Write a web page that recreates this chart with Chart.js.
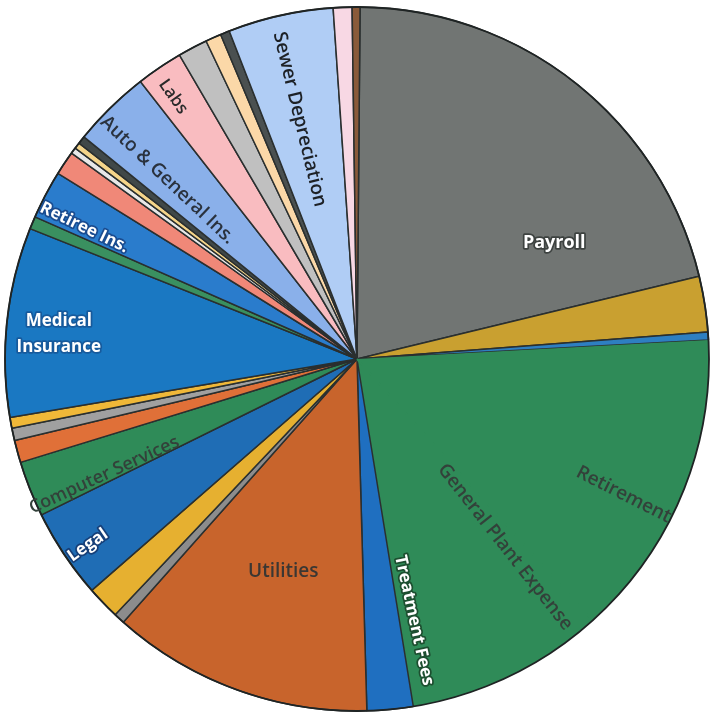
<!DOCTYPE html>
<html>
<head>
<meta charset="utf-8">
<script src="https://cdn.jsdelivr.net/npm/chart.js@4"></script>
<style>
  html, body { margin: 0; padding: 0; background: #ffffff; }
  #wrap { width: 712px; height: 719px; position: relative; }
</style>
</head>
<body>
<div id="wrap"><canvas id="grafico-gastos"></canvas></div>
<script>
// Categorias y porcentajes (en el sentido de las agujas del reloj desde arriba)
const categories = ['Payroll', '', '', 'Retirement', 'General Plant Expense', 'Treatment Fees', 'Utilities',
    '', '', 'Legal', 'Computer Services', '', '', '', 'Medical Insurance', '', 'Retiree Ins.', '',
    '', '', '', 'Auto & General Ins.', 'Labs', '', '', '', 'Sewer Depreciation', '', ''];
const shares = [21.08, 2.56, 0.36, 14.19, 9.11, 2.11, 12.00,
    0.50, 1.53, 4.11, 2.56, 1.03, 0.56, 0.50, 8.69, 0.58, 2.22, 1.11,
    0.28, 0.28, 0.36, 3.58, 2.14, 1.36, 0.72, 0.42, 4.83, 0.86, 0.36];
const sliceColors = ['#717573', '#c9a030', '#2e7fc1', '#2f8b58', '#2f8b58', '#1f6fc0', '#c8642c',
    '#8c8c8c', '#e6b030', '#1f6db5', '#2f8b58', '#e07038', '#a0a0a0', '#f0b838', '#1a78c2', '#3a9060', '#2a7ccc', '#f08878',
    '#e8e8e8', '#f5d58a', '#404848', '#8ab0ea', '#f9bcc0', '#c0c0c0', '#fbd8a8', '#4a5050', '#b0cdf5', '#f8d8e4', '#8a5a3a'];

// En el original no se ve linea entre Retirement y General Plant Expense
const sinBorde = ['Retirement', 'General Plant Expense'];

// Donde va cada etiqueta: desplazamiento angular (grados) y fraccion del radio
const labelStyle = {
    'Payroll': { shift: 21.1, dist: 0.65, flat: true, fill: '#ffffff', halo: '#3d4240', size: 18 },
    'Retirement': { shift: 4.5, dist: 0.85, fill: '#33413a', size: 19 },
    'General Plant Expense': { shift: -12.6, dist: 0.68, fill: '#33413a', size: 19 },
    'Treatment Fees': { shift: -6.9, dist: 0.76, fill: '#ffffff', halo: '#1d4f30' },
    'Utilities': { shift: -0.9, dist: 0.64, flat: true, fill: '#3a3733', size: 19 },
    'Legal': { shift: -1, dist: 0.93, fill: '#ffffff', halo: '#163f78' },
    'Computer Services': { shift: -3, dist: 0.79, fill: '#33413a', size: 18 },
    'Medical Insurance': { shift: -1.4, dist: 0.85, flat: true, lines: ['Medical', 'Insurance'], fill: '#ffffff', halo: '#175a9c' },
    'Retiree Ins.': { shift: -2.1, dist: 0.86, fill: '#ffffff', halo: '#1a4c90' },
    'Auto & General Ins.': { shift: -2.2, dist: 0.74, fill: '#2a323e', size: 19 },
    'Labs': { shift: -0.9, dist: 0.91, fill: '#2a2a2a' },
    'Sewer Depreciation': { shift: -0.9, dist: 0.70, fill: '#1d2126', size: 19 }
};

const etiquetasPlugin = {
    id: 'etiquetas',
    afterDatasetsDraw(chart) {
        const ctx = chart.ctx;
        const arcs = chart.getDatasetMeta(0).data;
        const a0 = arcs[0];

        // tapar la costura entre las dos porciones verdes sin borde
        arcs.forEach((arc, i) => {
            if (!sinBorde.includes(categories[i]) || !sinBorde.includes(categories[i - 1])) return;
            ctx.save();
            ctx.beginPath();
            ctx.moveTo(arc.x, arc.y);
            ctx.lineTo(arc.x + Math.cos(arc.startAngle) * arc.outerRadius,
                       arc.y + Math.sin(arc.startAngle) * arc.outerRadius);
            ctx.strokeStyle = sliceColors[i];
            ctx.lineWidth = 2;
            ctx.stroke();
            ctx.restore();
        });

        // contorno exterior del pastel
        ctx.save();
        ctx.beginPath();
        ctx.arc(a0.x, a0.y, a0.outerRadius, 0, Math.PI * 2);
        ctx.strokeStyle = '#1f2424';
        ctx.lineWidth = 1.8;
        ctx.stroke();
        ctx.restore();

        arcs.forEach((arc, i) => {
            const st = labelStyle[categories[i]];
            if (!st) return;
            const mid = (arc.startAngle + arc.endAngle) / 2 + st.shift * Math.PI / 180;
            const r = arc.outerRadius * st.dist;
            const x = arc.x + Math.cos(mid) * r;
            const y = arc.y + Math.sin(mid) * r;
            let rot = 0;
            if (!st.flat) {
                rot = mid;
                if (Math.cos(rot) < 0) rot += Math.PI;
            }
            const lines = st.lines || [categories[i]];
            const size = st.size || 17;
            ctx.save();
            ctx.translate(x, y);
            ctx.rotate(rot);
            ctx.font = (st.halo ? 'bold ' : '600 ') + size + 'px "Open Sans", sans-serif';
            ctx.textAlign = 'center';
            ctx.textBaseline = 'middle';
            ctx.lineJoin = 'round';
            lines.forEach((t, k) => {
                const ty = (k - (lines.length - 1) / 2) * (size + 9);
                if (st.halo) {
                    ctx.strokeStyle = st.halo;
                    ctx.lineWidth = 3.5;
                    ctx.strokeText(t, 0, ty);
                }
                ctx.fillStyle = st.fill;
                ctx.fillText(t, 0, ty);
            });
            ctx.restore();
        });
    }
};

new Chart(document.getElementById('grafico-gastos').getContext('2d'), {
    type: 'pie',
    data: {
        labels: categories,
        datasets: [{
            data: shares,
            backgroundColor: sliceColors,
            borderColor: '#2a2f2f',
            borderWidth: categories.map(c => sinBorde.includes(c) ? 0 : 1.5)
        }]
    },
    options: {
        responsive: true,
        maintainAspectRatio: false,
        animation: false,
        rotation: 0.5,
        radius: 352,
        layout: { padding: { left: 2, right: 0, top: 0, bottom: 1 } },
        plugins: {
            legend: { display: false },
            tooltip: { enabled: false }
        }
    },
    plugins: [etiquetasPlugin]
});
</script>
</body>
</html>
